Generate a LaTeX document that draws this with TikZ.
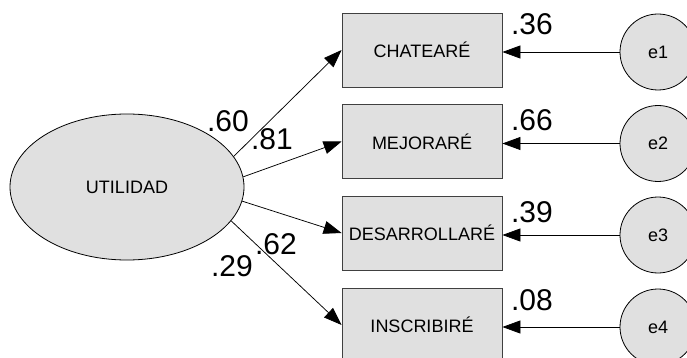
\documentclass[tikz,border=0pt]{standalone}
\usepackage{fontspec}
\setmainfont{Liberation Sans}
\usetikzlibrary{arrows.meta,shapes.geometric}
\definecolor{fillgray}{RGB}{224,224,224}
\tikzset{
  lat/.style={ellipse,draw=black,fill=fillgray,line width=0.8pt,inner sep=0pt,font=\fontsize{18}{18}\selectfont},
  obs/.style={rectangle,draw=black!75,fill=fillgray,line width=0.8pt,minimum width=160pt,minimum height=74pt,inner sep=0pt,font=\fontsize{18}{18}\selectfont},
  err/.style={circle,draw=black,fill=fillgray,line width=0.8pt,minimum size=76pt,inner sep=0pt,font=\fontsize{18}{18}\selectfont},
  arr/.style={draw=black,line width=0.75pt,-{Triangle[length=18pt,width=13pt]}},
  coef/.style={inner sep=0pt,font=\fontsize{30}{30}\selectfont}
}
\begin{document}
\begin{tikzpicture}[x=1pt,y=-1pt]
\useasboundingbox (0,0) rectangle (687,358);
\clip (0,0) rectangle (687,358);
\node[lat,minimum width=234pt,minimum height=146pt] (u) at (127,187) {UTILIDAD};
\node[obs] (b1) at (422,50) {CHATEARÉ};
\node[obs] (b2) at (422,141.5) {MEJORARÉ};
\node[obs] (b3) at (422,233) {DESARROLLARÉ};
\node[obs] (b4) at (422,325) {INSCRIBIRÉ};
\node[err] (e1) at (658,52) {e1};
\node[err] (e2) at (658,143.5) {e2};
\node[err] (e3) at (658,235) {e3};
\node[err] (e4) at (658,327) {e4};
\draw[arr] (u.16.5) -- (b1.west);
\draw[arr] (u.5) -- (b2.west);
\draw[arr] (u.-7.5) -- (b3.west);
\draw[arr] (u.-18) -- (b4.west);
\draw[arr] (e1.west) -- (b1.east |- e1.west);
\draw[arr] (e2.west) -- (b2.east |- e2.west);
\draw[arr] (e3.west) -- (b3.east |- e3.west);
\draw[arr] (e4.west) -- (b4.east |- e4.west);
\node[coef] (l1) at (228,121) {.60};
\node[coef] (l2) at (272,139) {.81};
\node[coef] (l3) at (276,244) {.62};
\node[coef] (l4) at (232,266) {.29};
\node[coef] (r1) at (532,24) {.36};
\node[coef] (r2) at (532,120) {.66};
\node[coef] (r3) at (532,212) {.39};
\node[coef] (r4) at (532,300) {.08};
\end{tikzpicture}
\end{document}
